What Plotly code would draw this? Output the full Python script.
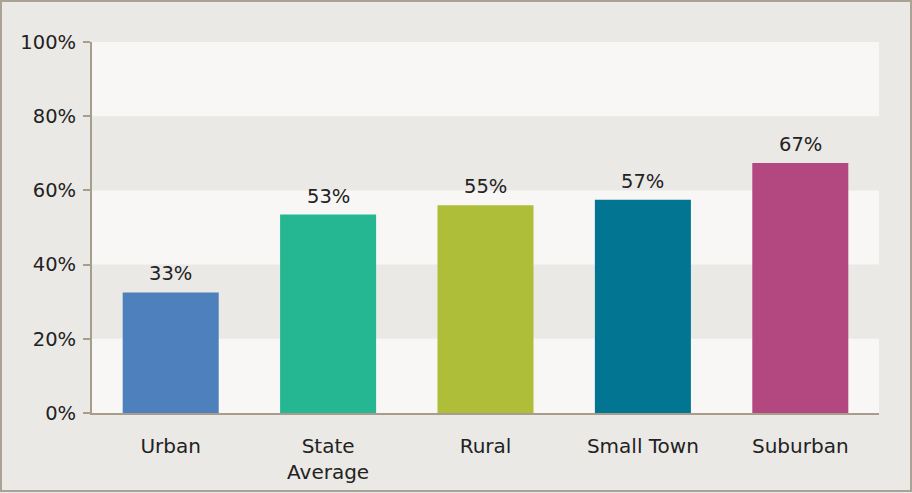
import plotly.graph_objects as go

categories = ["Urban", "State<br>Average", "Rural", "Small Town", "Suburban"]
values = [32.5, 53.5, 56.0, 57.5, 67.4]
value_labels = ["33%", "53%", "55%", "57%", "67%"]
bar_colors = ["#4e80bd", "#25b791", "#afbe38", "#017591", "#b34880"]
y_ticks = [0, 20, 40, 60, 80, 100]
y_tick_labels = ["0%", "20%", "40%", "60%", "80%", "100%"]

W, H = 912, 493
ml, mr, mt, mb = 92, 33, 42, 80
pw, ph = W - ml - mr, H - mt - mb

font_family = "'DejaVu Sans', sans-serif"
txt = "#222222"
axis_color = "#a89d8d"
bg = "#ebe9e6"
light = "#f8f7f5"

fig = go.Figure(go.Bar(
    x=categories, y=values, marker=dict(color=bar_colors, line=dict(width=0)),
    hoverinfo="skip",
))

annotations = [
    dict(x=c, y=v, text=t, xref="x", yref="y", showarrow=False, yanchor="bottom",
         yshift=5, font=dict(size=19.5, color=txt, family=font_family))
    for c, v, t in zip(categories, values, value_labels)
]

shapes = []
for lo, hi in [(20, 40), (60, 80)]:
    shapes.append(dict(type="rect", xref="paper", yref="y", x0=0, x1=1, y0=lo, y1=hi,
                       fillcolor=bg, line=dict(width=0), layer="below"))
# outer border
shapes.append(dict(type="rect", xref="paper", yref="paper",
                   x0=(1 - ml) / pw, x1=(911 - ml) / pw,
                   y0=(mt + ph - 491) / ph, y1=(mt + ph - 1) / ph,
                   line=dict(color="#aaa294", width=2), fillcolor="rgba(0,0,0,0)", layer="below"))

fig.update_layout(
    width=W, height=H,
    margin=dict(l=ml, r=mr, t=mt, b=mb, pad=0, autoexpand=False),
    paper_bgcolor=bg, plot_bgcolor=light,
    bargap=0.39, showlegend=False,
    shapes=shapes, annotations=annotations,
    font=dict(family=font_family, size=19.5, color=txt),
    xaxis=dict(showline=True, linecolor=axis_color, linewidth=2, ticks="",
               ticklabelstandoff=14, showgrid=False, zeroline=False, automargin=False,
               tickfont=dict(size=20, color=txt)),
    yaxis=dict(range=[0, 100], tickvals=y_ticks, ticktext=y_tick_labels,
               showline=True, linecolor=axis_color, linewidth=2,
               ticks="outside", ticklen=7, tickwidth=2, tickcolor=axis_color,
               ticklabelstandoff=3, automargin=False,
               showgrid=False, zeroline=False, fixedrange=True,
               tickfont=dict(size=19.5, color=txt)),
)

fig.write_html("out.html", config={"displayModeBar": False},
               post_script="document.body.style.margin='0';document.body.style.overflow='hidden';")
